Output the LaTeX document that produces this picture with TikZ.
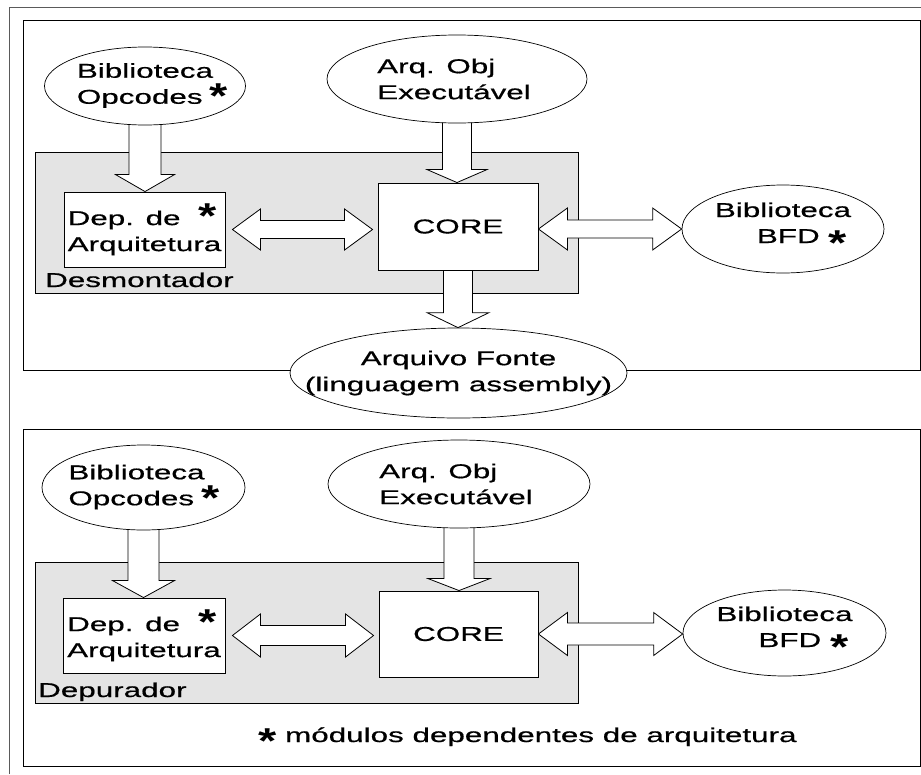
\documentclass[tikz,border=0pt]{standalone}
\usepackage{fontspec}
\setmainfont{Liberation Sans}[FakeStretch=1.57, FakeBold=0.6]
\newfontfamily\starfont{Liberation Sans}[FakeStretch=1.3]
\usetikzlibrary{shapes.geometric,calc}

\definecolor{modgray}{RGB}{228,228,228}
\definecolor{framegray}{RGB}{90,90,90}

\pgfdeclarelayer{panel}
\pgfdeclarelayer{arrowlayer}
\pgfsetlayers{panel,arrowlayer,main}

% bold asterisk marking architecture-dependent modules
\newcommand{\astmark}[1]{\raisebox{#1}{\starfont\fontsize{36pt}{36pt}\bfseries *}}

% downward block arrow: source, target, shaft half-width, head half-width, head length
\newcommand{\vblock}[5]{%
  \draw[blockarrow] let \p1=(#1), \p2=(#2) in
    ({\x1-#3pt},{\y1+5pt}) -- ({\x1-#3pt},{\y2+#5pt}) -- ({\x1-#4pt},{\y2+#5pt})
    -- (\x1,\y2) -- ({\x1+#4pt},{\y2+#5pt}) -- ({\x1+#3pt},{\y2+#5pt})
    -- ({\x1+#3pt},{\y1+5pt}) -- cycle;}

% horizontal double-headed block arrow: left tip, right tip, shaft half-width, head half-width, head length
\newcommand{\hblock}[5]{%
  \draw[blockarrow] let \p1=(#1), \p2=(#2) in
    (\x1,\y1) -- ({\x1+#5pt},{\y1+#4pt}) -- ({\x1+#5pt},{\y1+#3pt})
    -- ({\x2-#5pt},{\y1+#3pt}) -- ({\x2-#5pt},{\y1+#4pt}) -- (\x2,\y1)
    -- ({\x2-#5pt},{\y1-#4pt}) -- ({\x2-#5pt},{\y1-#3pt})
    -- ({\x1+#5pt},{\y1-#3pt}) -- ({\x1+#5pt},{\y1-#4pt}) -- cycle;}

\tikzset{
  txt/.style={font=\fontsize{20pt}{26pt}\selectfont, text=black},
  ell/.style={txt, ellipse, draw=black, fill=white, line width=0.7pt,
              inner xsep=-40pt, inner ysep=-20pt},
  modbox/.style={txt, rectangle, draw=black, fill=white, line width=0.9pt, inner sep=0pt},
  graybox/.style={rectangle, draw=black, fill=modgray, line width=0.9pt,
                  minimum width=543pt, minimum height=141pt, anchor=north west, inner sep=0pt},
  panelbox/.style={draw=black, line width=0.9pt, fill=white},
  blockarrow/.style={draw=black, fill=white, line width=0.8pt, line join=miter},
  lbl/.style={txt, inner sep=0pt, anchor=base west}
}

\begin{document}
\begin{tikzpicture}[x=1pt,y=-1pt]
\useasboundingbox (0,0) rectangle (921,774);

% ---------- panels and module containers ----------
\begin{pgfonlayer}{panel}
  \fill[white] (0,0) rectangle (921,774);
  \draw[framegray, line width=0.9pt] (9,774) -- (9,7) -- (921,7);
  \draw[panelbox] (23,20) rectangle (920,370);
  \draw[panelbox] (23,429) rectangle (920,766);
  \node[graybox] (desmbox) at (35,152) {};
  \node[graybox] (depbox) at (35,562) {};
\end{pgfonlayer}

% ---------- disassembler ----------
\node[ell, minimum width=201pt, minimum height=78pt, align=left] (opc1) at (145,86)
  {Biblioteca\\Opcodes\rlap{\hspace{7pt}\astmark{-5pt}}};
\node[ell, minimum width=260pt, minimum height=88pt, align=left] (arq1) at (457,79)
  {Arq. Obj\\Execut\'avel\hspace*{6pt}};
\node[modbox, minimum width=161pt, minimum height=75pt, align=left] (dep1) at (144.5,229.5)
  {Dep. de\rlap{\hspace{18pt}\astmark{-3.5pt}}\\Arquitetura};
\node[modbox, minimum width=160pt, minimum height=87pt] (core1) at (458,226.5) {CORE};
\node[ell, minimum width=202pt, minimum height=88pt, align=left] (bfd1) at (783,229)
  {Biblioteca\\\hspace*{42pt}BFD\hspace{9pt}\astmark{-12.5pt}};
\node[ell, minimum width=337pt, minimum height=90pt, align=center] (src) at (458.5,373)
  {Arquivo Fonte\\(linguagem assembly)};
\node[lbl] (desm) at (45,287) {Desmontador};

% ---------- debugger ----------
\node[ell, minimum width=203pt, minimum height=85pt, align=left] (opc2) at (143.5,487.5)
  {Biblioteca\hspace*{14pt}\\Opcodes\rlap{\hspace{7pt}\astmark{-5pt}}};
\node[ell, minimum width=262pt, minimum height=88pt, align=left] (arq2) at (459,484)
  {Arq. Obj\\Execut\'avel\hspace*{6pt}};
\node[modbox, minimum width=162pt, minimum height=75pt, align=left] (dep2) at (144,635.5)
  {Dep. de\rlap{\hspace{18pt}\astmark{-3.5pt}}\\Arquitetura};
\node[modbox, minimum width=159pt, minimum height=86pt] (core2) at (458.5,634) {CORE};
\node[ell, minimum width=203pt, minimum height=86pt, align=left] (bfd2) at (784.5,633)
  {Biblioteca\\\hspace*{42pt}BFD\hspace{9pt}\astmark{-12.5pt}};
\node[lbl] (depu) at (38,697) {Depurador};

\node[lbl] (note) at (258,742) {\astmark{-11pt}\ m\'odulos dependentes de arquitetura};

% ---------- block arrows ----------
\begin{pgfonlayer}{arrowlayer}
  \vblock{opc1.south}{dep1.north}{16}{29.5}{17}
  \vblock{arq1.south}{core1.north}{14.5}{30}{13}
  \vblock{core1.south}{src.north}{14.5}{31}{15}
  \hblock{[xshift=7pt]dep1.east}{[xshift=-5pt]core1.west}{9}{20.5}{28}
  \hblock{[yshift=-2.5pt]core1.east}{bfd1.west}{9}{21}{29}

  \vblock{opc2.south}{dep2.north}{15.5}{31}{17}
  \vblock{arq2.south}{core2.north}{15}{31}{12}
  \hblock{[xshift=7pt]dep2.east}{[xshift=-5pt]core2.west}{10}{21.5}{28}
  \hblock{core2.east}{bfd2.west}{11}{21.5}{29}
\end{pgfonlayer}
\end{tikzpicture}
\end{document}
